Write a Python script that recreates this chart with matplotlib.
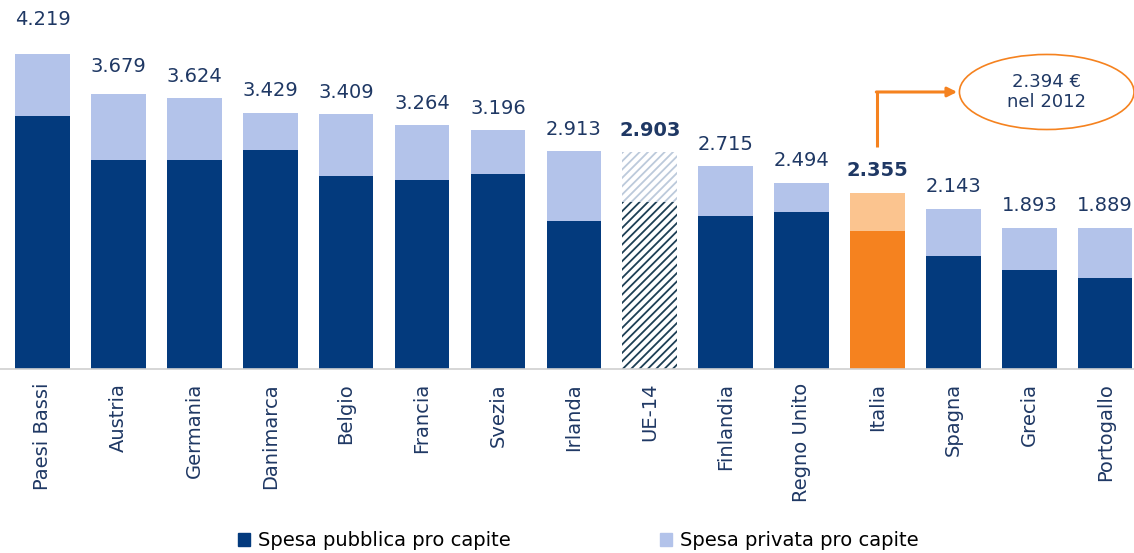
import matplotlib.pyplot as plt
from matplotlib.patches import Ellipse, Patch

# Spesa sanitaria pro capite (euro), pubblica + privata
paesi = ["Paesi Bassi", "Austria", "Germania", "Danimarca", "Belgio", "Francia",
         "Svezia", "Irlanda", "UE-14", "Finlandia", "Regno Unito", "Italia",
         "Spagna", "Grecia", "Portogallo"]
totale = [4219, 3679, 3624, 3429, 3409, 3264, 3196, 2913, 2903, 2715, 2494,
          2355, 2143, 1893, 1889]
pubblica = [3384, 2799, 2799, 2933, 2589, 2531, 2612, 1987, 2243, 2043, 2096,
            1851, 1507, 1320, 1218]
privata = [t - p for t, p in zip(totale, pubblica)]
italia_2012 = "2.394 €\nnel 2012"

BLU = "#033a7d"
AZZURRO = "#b3c3ea"
ARANCIO = "#f5821f"
ARANCIO_CHIARO = "#fbc48f"
TESTO = "#1f3864"

plt.rcParams["font.family"] = "DejaVu Sans"
plt.rcParams["hatch.linewidth"] = 1.3

fig = plt.figure(figsize=(11.34, 5.53), dpi=100)
ax = fig.add_axes([0, 184 / 553, 1, 369 / 553])

x = range(len(paesi))
for i in x:
    if paesi[i] == "UE-14":
        ax.bar(i, pubblica[i], 0.72, facecolor="white", edgecolor="#1d3f55",
               hatch="////", linewidth=0)
        ax.bar(i, privata[i], 0.72, bottom=pubblica[i], facecolor="white",
               edgecolor="#bccadb", hatch="////", linewidth=0)
    elif paesi[i] == "Italia":
        ax.bar(i, pubblica[i], 0.72, color=ARANCIO)
        ax.bar(i, privata[i], 0.72, bottom=pubblica[i], color=ARANCIO_CHIARO)
    else:
        ax.bar(i, pubblica[i], 0.72, color=BLU)
        ax.bar(i, privata[i], 0.72, bottom=pubblica[i], color=AZZURRO)

# etichette con il totale sopra ogni barra
extra = {0: 8.5, 1: 4}
for i in x:
    lab = f"{totale[i] / 1000:.3f}"
    bold = paesi[i] in ("UE-14", "Italia")
    ax.annotate(lab, (i, totale[i]), xytext=(0, 16 + extra.get(i, 0)),
                textcoords="offset points", ha="center", va="center",
                fontsize=14, color=TESTO,
                fontweight="bold" if bold else "normal", annotation_clip=False)

ax.set_xlim(-0.56, 14.38)
ax.set_ylim(0, 4942)
ax.set_xticks(list(x))
ax.set_xticklabels(paesi, rotation=90, fontsize=14, color=TESTO)
ax.tick_params(axis="x", length=0, pad=10)
ax.set_yticks([])
for s in ("top", "left", "right"):
    ax.spines[s].set_visible(False)
ax.spines["bottom"].set_color("#d0d0d0")
ax.spines["bottom"].set_linewidth(1.2)

# richiamo sul valore italiano del 2012
it = paesi.index("Italia")
y0 = totale[it] + 620
y1 = totale[it] + 1355
ax.plot([it, it], [y0, y1], color=ARANCIO, lw=2.2, clip_on=False,
        solid_capstyle="butt")
ax.annotate("", xy=(it + 1.05, y1), xytext=(it - 0.015, y1),
            arrowprops=dict(arrowstyle="-|>", color=ARANCIO, lw=2.2,
                            mutation_scale=14, shrinkA=0, shrinkB=0),
            annotation_clip=False)
ax.add_patch(Ellipse((it + 2.23, y1), 2.3, 1005, facecolor="white",
                     edgecolor=ARANCIO, lw=1.2, clip_on=False))
ax.text(it + 2.23, y1, italia_2012, ha="center", va="center", fontsize=13,
        color=TESTO, linespacing=1.15)

handles = [Patch(color=BLU), Patch(color=AZZURRO)]
fig.legend(handles, ["Spesa pubblica pro capite", "Spesa privata pro capite"],
           loc="center", bbox_to_anchor=(0.51, 12 / 553), ncol=2, frameon=False,
           fontsize=14, labelcolor="black", handlelength=0.6, handleheight=0.6,
           handletextpad=0.4, columnspacing=7.7)

fig.savefig("out.png", dpi=100)
